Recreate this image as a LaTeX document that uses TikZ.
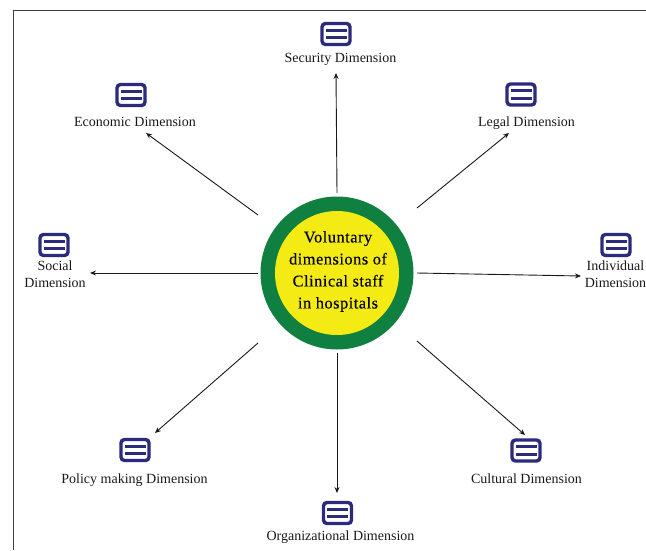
\documentclass[tikz,border=0pt]{standalone}
\usepackage{fontspec}
\setmainfont{Liberation Serif}
\definecolor{iconblue}{HTML}{2B2A7C}
\definecolor{ringgreen}{HTML}{0F8040}
\definecolor{hubyellow}{HTML}{F4EA14}
\usetikzlibrary{arrows.meta}
\tikzset{
  dimicon/.style={draw=iconblue,line width=3.4pt,fill=white,rounded corners=3.5pt,
    minimum width=28pt,minimum height=21pt,inner sep=0pt,outer sep=0pt,
    path picture={
      \fill[iconblue,sharp corners] ([shift={(-10.5,-5.4)}]path picture bounding box.center) rectangle ++(21,3.2);
      \fill[iconblue,sharp corners] ([shift={(-10.5,2.2)}]path picture bounding box.center) rectangle ++(21,3.2);
    }},
  dimlabel/.style={font=\fontsize{14pt}{17pt}\selectfont,align=center,text=black!90,inner sep=0pt},
  flow/.style={draw=black!90,line width=0.9pt,-{Stealth[length=6pt,width=5pt]}},
  hubtext/.style={font=\fontsize{16.4pt}{22pt}\selectfont\addfontfeatures{LetterSpace=3,FakeBold=0.2},align=center,inner sep=0pt}
}
\begin{document}
\begin{tikzpicture}[x=1pt,y=-1pt]
\useasboundingbox (0,0) rectangle (646,550);
\draw[black!75,line width=1pt] (646,10.5) -- (13.5,10.5) -- (13.5,550);
\node[circle,fill=ringgreen,minimum size=153pt,inner sep=0pt] (hub) at (337,273) {};
\node[circle,fill=hubyellow,minimum size=124pt,inner sep=0pt] (hubin) at (hub.center) {};
\node[hubtext] (hubtxt) at (338,271.5) {Voluntary\\dimensions of\\Clinical staff\\in hospitals};
\node[dimicon] (secI) at (336,34) {};
\node[dimicon] (ecoI) at (131,95) {};
\node[dimicon] (legI) at (521,94.5) {};
\node[dimicon] (socI) at (54,245) {};
\node[dimicon] (indI) at (616,245) {};
\node[dimicon] (polI) at (135,450) {};
\node[dimicon] (culI) at (526,450.5) {};
\node[dimicon] (orgI) at (337.5,513) {};
\node[dimlabel] (secT) at (340.5,59) {Security Dimension};
\node[dimlabel] (ecoT) at (135,122) {Economic Dimension};
\node[dimlabel] (legT) at (526.5,123) {Legal Dimension};
\node[dimlabel] (socT) at (55,274.5) {Social\\Dimension};
\node[dimlabel] (indT) at (615.5,274.5) {Individual\\Dimension};
\node[dimlabel] (polT) at (134.5,480) {Policy making Dimension};
\node[dimlabel] (culT) at (526.5,479) {Cultural Dimension};
\node[dimlabel] (orgT) at (340.5,537.5) {Organizational Dimension};
\draw[flow] ([shift={(0,-80)}]hub.center) -- ([shift={(-4.5,14)}]secT.center);
\draw[flow] ([shift={(-79,-58)}]hub.center) -- ([shift={(11,11)}]ecoT.center);
\draw[flow] ([shift={(80,-65)}]hub.center) -- ([shift={(-17.5,10)}]legT.center);
\draw[flow] ([shift={(-79,0)}]hub.center) -- ([shift={(35,-1.5)}]socT.center);
\draw[flow] ([shift={(80,0)}]hub.center) -- ([shift={(-34.5,1.5)}]indT.center);
\draw[flow] ([shift={(-79,70)}]hub.center) -- ([shift={(20,-17)}]polI.center);
\draw[flow] ([shift={(80,68)}]hub.center) -- ([shift={(-1,-15.5)}]culI.center);
\draw[flow] ([shift={(0,80)}]hub.center) -- ([shift={(-0.5,-20)}]orgI.center);
\end{tikzpicture}
\end{document}
